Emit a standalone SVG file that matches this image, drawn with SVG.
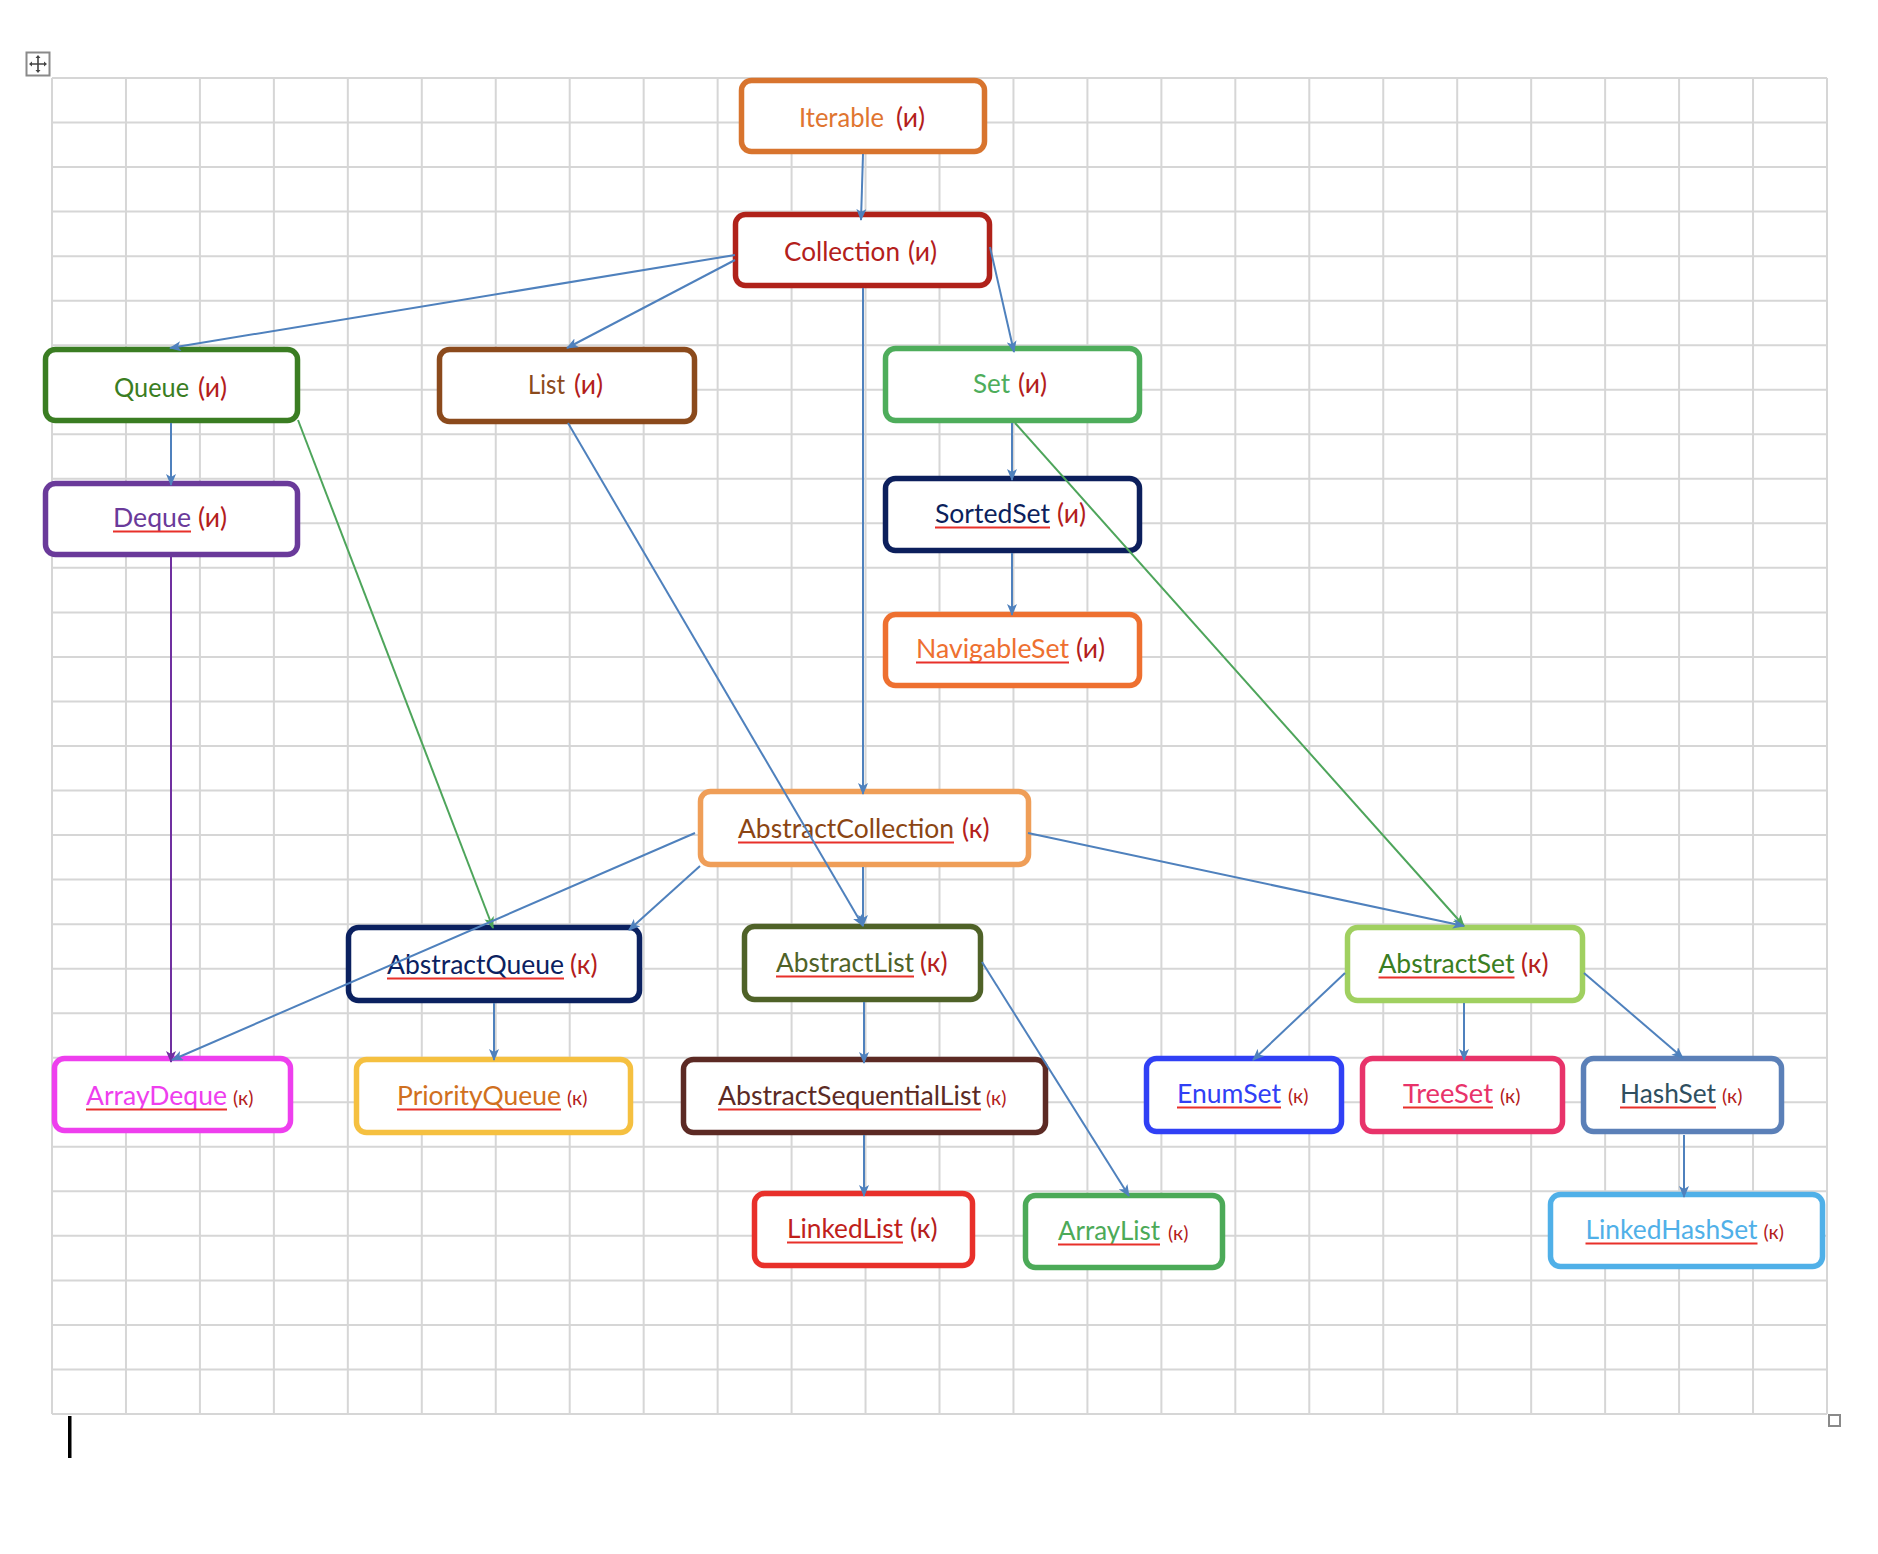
<svg xmlns="http://www.w3.org/2000/svg" width="1878" height="1554" viewBox="0 0 1878 1554">
<defs>
<style>
.box{fill:#fff;stroke-width:5.5}
.t{font-family:Lato,"Noto Sans","DejaVu Sans",sans-serif;font-size:26.5px}
.s{font-family:Lato,"Noto Sans","DejaVu Sans",sans-serif;font-size:26.5px;fill:#B3201B}
.ss{font-family:Lato,"Noto Sans","DejaVu Sans",sans-serif;font-size:19.5px;fill:#B3201B}
.u{stroke:#E8302A;stroke-width:2}
.c{stroke:#4F81BD;stroke-width:2;fill:none;marker-end:url(#ab)}
.cg{stroke:#4EA55B;stroke-width:2;fill:none;marker-end:url(#ag)}
.cp{stroke:#7030A0;stroke-width:2;fill:none;marker-end:url(#ap)}
</style>
<marker id="ab" viewBox="0 0 12 10" refX="11" refY="5" markerWidth="12" markerHeight="10" markerUnits="userSpaceOnUse" orient="auto"><path d="M0,0 L12,5 L0,10 L3,5 Z" fill="#4F81BD"/></marker>
<marker id="ag" viewBox="0 0 12 10" refX="11" refY="5" markerWidth="12" markerHeight="10" markerUnits="userSpaceOnUse" orient="auto"><path d="M0,0 L12,5 L0,10 L3,5 Z" fill="#4EA55B"/></marker>
<marker id="ap" viewBox="0 0 12 10" refX="11" refY="5" markerWidth="12" markerHeight="10" markerUnits="userSpaceOnUse" orient="auto"><path d="M0,0 L12,5 L0,10 L3,5 Z" fill="#7030A0"/></marker>
</defs>
<rect width="1878" height="1554" fill="#fff"/>
<g id="grid" stroke="#D6D6D6" stroke-width="2" fill="none">
<path d="M52,78V1414M125.96,78V1414M199.92,78V1414M273.88,78V1414M347.83,78V1414M421.79,78V1414M495.75,78V1414M569.71,78V1414M643.67,78V1414M717.63,78V1414M791.58,78V1414M865.54,78V1414M939.5,78V1414M1013.46,78V1414M1087.42,78V1414M1161.38,78V1414M1235.33,78V1414M1309.29,78V1414M1383.25,78V1414M1457.21,78V1414M1531.17,78V1414M1605.13,78V1414M1679.08,78V1414M1753.04,78V1414M1827,78V1414"/>
<path d="M52,78H1827M52,122.53H1827M52,167.07H1827M52,211.6H1827M52,256.13H1827M52,300.67H1827M52,345.2H1827M52,389.73H1827M52,434.27H1827M52,478.8H1827M52,523.33H1827M52,567.87H1827M52,612.4H1827M52,656.93H1827M52,701.47H1827M52,746H1827M52,790.53H1827M52,835.07H1827M52,879.6H1827M52,924.13H1827M52,968.67H1827M52,1013.2H1827M52,1057.73H1827M52,1102.27H1827M52,1146.8H1827M52,1191.33H1827M52,1235.87H1827M52,1280.4H1827M52,1324.93H1827M52,1369.47H1827M52,1414H1827"/>
</g>
<g id="editor-marks">
<rect x="26.5" y="52.5" width="23" height="23" fill="#fff" stroke="#8A8A8A" stroke-width="2"/>
<path d="M31,64H45M38,57V71" stroke="#444" stroke-width="1.6"/>
<path d="M38,55l-2.5,3h5zM38,73l-2.5,-3h5zM29,64l3,-2.5v5zM47,64l-3,-2.5v5z" fill="#444"/>
<rect x="1829" y="1415" width="11" height="11" fill="#fff" stroke="#8A8A8A" stroke-width="2"/>
<rect x="68" y="1416" width="3.5" height="42" fill="#000"/>
</g>
<g id="nodes">
<g id="n-iterable"><rect class="box" x="741.5" y="80.5" width="243" height="71" rx="10" stroke="#D8742E"/>
<text class="t" x="799" y="127" textLength="85" lengthAdjust="spacingAndGlyphs" fill="#E07530">Iterable</text><text class="s" x="896" y="127">(и)</text></g>
<g id="n-collection"><rect class="box" x="735.5" y="214.5" width="254" height="71" rx="10" stroke="#B0221A"/>
<text class="t" x="784" y="261" textLength="116" lengthAdjust="spacingAndGlyphs" fill="#B3201B">Collection</text><text class="s" x="908" y="261">(и)</text></g>
<g id="n-queue"><rect class="box" x="45.5" y="349.5" width="252" height="71" rx="10" stroke="#3A7D22"/>
<text class="t" x="114" y="397" textLength="75" lengthAdjust="spacingAndGlyphs" fill="#3A7D22">Queue</text><text class="s" x="198" y="397">(и)</text></g>
<g id="n-list"><rect class="box" x="439.5" y="349.5" width="255" height="72" rx="10" stroke="#8B4A1C"/>
<text class="t" x="528" y="394" textLength="37" lengthAdjust="spacingAndGlyphs" fill="#8B4A1C">List</text><text class="s" x="574" y="394">(и)</text></g>
<g id="n-set"><rect class="box" x="885.5" y="348.5" width="254" height="72" rx="10" stroke="#4EAD5B"/>
<text class="t" x="973" y="393" textLength="37" lengthAdjust="spacingAndGlyphs" fill="#4EAD5B">Set</text><text class="s" x="1018" y="393">(и)</text></g>
<g id="n-deque"><rect class="box" x="45.5" y="483.5" width="252" height="71" rx="10" stroke="#6A3A9A"/>
<text class="t" x="113" y="527" textLength="78" lengthAdjust="spacingAndGlyphs" fill="#6A3A9A">Deque</text><line class="u" x1="113" y1="531.5" x2="191" y2="531.5"/><text class="s" x="198" y="527">(и)</text></g>
<g id="n-sortedset"><rect class="box" x="885.5" y="478.5" width="254" height="72" rx="10" stroke="#0C1F5C"/>
<text class="t" x="935" y="523" textLength="115" lengthAdjust="spacingAndGlyphs" fill="#0C1F5C">SortedSet</text><line class="u" x1="935" y1="527.5" x2="1050" y2="527.5"/><text class="s" x="1057" y="523">(и)</text></g>
<g id="n-navigableset"><rect class="box" x="885.5" y="614.5" width="254" height="71" rx="10" stroke="#EE7030"/>
<text class="t" x="916" y="658" textLength="153" lengthAdjust="spacingAndGlyphs" fill="#EE7030">NavigableSet</text><line class="u" x1="916" y1="662.5" x2="1069" y2="662.5"/><text class="s" x="1076" y="658">(и)</text></g>
<g id="n-abstractcollection"><rect class="box" x="700.5" y="791.5" width="328" height="73" rx="10" stroke="#EF9E58"/>
<text class="t" x="738" y="838" textLength="216" lengthAdjust="spacingAndGlyphs" fill="#8B4513">AbstractCollection</text><line class="u" x1="738" y1="842.5" x2="954" y2="842.5"/><text class="s" x="962" y="838">(к)</text></g>
<g id="n-abstractqueue"><rect class="box" x="348.5" y="927.5" width="291" height="73" rx="10" stroke="#0B2160"/>
<text class="t" x="387" y="974" textLength="177" lengthAdjust="spacingAndGlyphs" fill="#0B2160">AbstractQueue</text><line class="u" x1="387" y1="978.5" x2="564" y2="978.5"/><text class="s" x="570" y="974">(к)</text></g>
<g id="n-abstractlist"><rect class="box" x="744.5" y="926.5" width="236" height="73" rx="10" stroke="#4F6228"/>
<text class="t" x="776" y="972" textLength="138" lengthAdjust="spacingAndGlyphs" fill="#4F6228">AbstractList</text><line class="u" x1="776" y1="976.5" x2="914" y2="976.5"/><text class="s" x="920" y="972">(к)</text></g>
<g id="n-abstractset"><rect class="box" x="1347.5" y="927.5" width="235" height="73" rx="10" stroke="#A0D060"/>
<text class="t" x="1378.5" y="973" textLength="136" lengthAdjust="spacingAndGlyphs" fill="#3A7D22">AbstractSet</text><line class="u" x1="1378.5" y1="977.5" x2="1514.5" y2="977.5"/><text class="s" x="1521" y="973">(к)</text></g>
<g id="n-arraydeque"><rect class="box" x="54.5" y="1058.5" width="236" height="72" rx="10" stroke="#EE3FEE"/>
<text class="t" x="86" y="1105" textLength="141" lengthAdjust="spacingAndGlyphs" fill="#EE3FEE">ArrayDeque</text><line class="u" x1="86" y1="1109.5" x2="227" y2="1109.5"/><text class="ss" x="233" y="1105">(к)</text></g>
<g id="n-priorityqueue"><rect class="box" x="356.5" y="1059.5" width="274" height="73" rx="10" stroke="#F5C040"/>
<text class="t" x="397" y="1105" textLength="164" lengthAdjust="spacingAndGlyphs" fill="#D07020">PriorityQueue</text><line class="u" x1="397" y1="1109.5" x2="561" y2="1109.5"/><text class="ss" x="567" y="1105">(к)</text></g>
<g id="n-abstractsequentiallist"><rect class="box" x="683.5" y="1059.5" width="362" height="73" rx="10" stroke="#5C2A24"/>
<text class="t" x="718" y="1105" textLength="263" lengthAdjust="spacingAndGlyphs" fill="#5C2A24">AbstractSequentialList</text><line class="u" x1="718" y1="1109.5" x2="981" y2="1109.5"/><text class="ss" x="986" y="1105">(к)</text></g>
<g id="n-enumset"><rect class="box" x="1146.5" y="1058.5" width="195" height="73" rx="10" stroke="#3040F5"/>
<text class="t" x="1177" y="1103" textLength="104" lengthAdjust="spacingAndGlyphs" fill="#3040F5">EnumSet</text><line class="u" x1="1177" y1="1107.5" x2="1281" y2="1107.5"/><text class="ss" x="1288" y="1103">(к)</text></g>
<g id="n-treeset"><rect class="box" x="1362.5" y="1058.5" width="200" height="73" rx="10" stroke="#E8336A"/>
<text class="t" x="1403" y="1103" textLength="90" lengthAdjust="spacingAndGlyphs" fill="#E8336A">TreeSet</text><line class="u" x1="1403" y1="1107.5" x2="1493" y2="1107.5"/><text class="ss" x="1500" y="1103">(к)</text></g>
<g id="n-hashset"><rect class="box" x="1583.5" y="1058.5" width="198" height="73" rx="10" stroke="#5B80B8"/>
<text class="t" x="1620" y="1103" textLength="96" lengthAdjust="spacingAndGlyphs" fill="#2F4F5F">HashSet</text><line class="u" x1="1620" y1="1107.5" x2="1716" y2="1107.5"/><text class="ss" x="1722" y="1103">(к)</text></g>
<g id="n-linkedlist"><rect class="box" x="754.5" y="1193.5" width="218" height="72" rx="10" stroke="#E8302A"/>
<text class="t" x="787" y="1238" textLength="116" lengthAdjust="spacingAndGlyphs" fill="#C0201A">LinkedList</text><line class="u" x1="787" y1="1242.5" x2="903" y2="1242.5"/><text class="s" x="910" y="1238">(к)</text></g>
<g id="n-arraylist"><rect class="box" x="1025.5" y="1195.5" width="197" height="72" rx="10" stroke="#4CAA58"/>
<text class="t" x="1058" y="1240" textLength="102" lengthAdjust="spacingAndGlyphs" fill="#4CAA58">ArrayList</text><line class="u" x1="1058" y1="1244.5" x2="1160" y2="1244.5"/><text class="ss" x="1168" y="1240">(к)</text></g>
<g id="n-linkedhashset"><rect class="box" x="1550.5" y="1194.5" width="272" height="72" rx="10" stroke="#50B0E8"/>
<text class="t" x="1585.5" y="1239" textLength="172" lengthAdjust="spacingAndGlyphs" fill="#50B0E8">LinkedHashSet</text><line class="u" x1="1585.5" y1="1243.5" x2="1757.5" y2="1243.5"/><text class="ss" x="1763.5" y="1239">(к)</text></g>
</g>
<g id="connectors">
<path class="c" d="M863,154L861,220"/>
<path class="c" d="M735,255L170,348"/>
<path class="c" d="M735,260L567,348"/>
<path class="c" d="M990,247L1014,352"/>
<path class="c" d="M863,288L863,794"/>
<path class="c" d="M171,423L171,485"/>
<path class="cg" d="M298,420L493,928"/>
<path class="cp" d="M171,557L171,1062"/>
<path class="c" d="M568,423L863,926"/>
<path class="c" d="M1012,423L1012,480"/>
<path class="cg" d="M1015,423L1464,926"/>
<path class="c" d="M1012,553L1012,615"/>
<path class="c" d="M695,833L172,1060"/>
<path class="c" d="M700,866L629,930"/>
<path class="c" d="M863,867L863,926"/>
<path class="c" d="M1028,833L1464,926"/>
<path class="c" d="M494,1003L494,1060"/>
<path class="c" d="M864,1002L864,1063"/>
<path class="c" d="M982,962L1129,1196"/>
<path class="c" d="M864,1135L864,1196"/>
<path class="c" d="M1345,973L1253,1060"/>
<path class="c" d="M1464,1003L1464,1060"/>
<path class="c" d="M1584,973L1683,1058"/>
<path class="c" d="M1684,1135L1684,1197"/>
</g>
</svg>
